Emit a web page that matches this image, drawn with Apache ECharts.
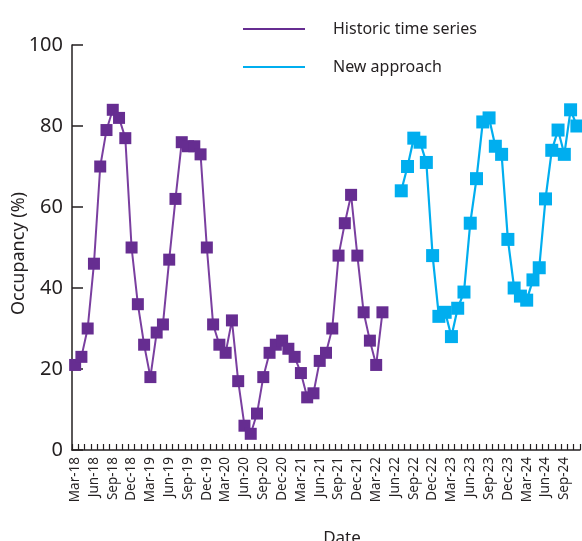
<!DOCTYPE html>
<html>
<head>
<meta charset="utf-8">
<script src="https://cdn.jsdelivr.net/npm/echarts@6/dist/echarts.min.js"></script>
<style>html,body{margin:0;padding:0;background:#fff;}#c{width:582px;height:541px;}</style>
</head>
<body>
<div id="c"></div>
<script>
const months = [
  'Mar-18','Apr-18','May-18','Jun-18','Jul-18','Aug-18','Sep-18','Oct-18','Nov-18','Dec-18',
  'Jan-19','Feb-19','Mar-19','Apr-19','May-19','Jun-19','Jul-19','Aug-19','Sep-19','Oct-19','Nov-19','Dec-19',
  'Jan-20','Feb-20','Mar-20','Apr-20','May-20','Jun-20','Jul-20','Aug-20','Sep-20','Oct-20','Nov-20','Dec-20',
  'Jan-21','Feb-21','Mar-21','Apr-21','May-21','Jun-21','Jul-21','Aug-21','Sep-21','Oct-21','Nov-21','Dec-21',
  'Jan-22','Feb-22','Mar-22','Apr-22','May-22','Jun-22','Jul-22','Aug-22','Sep-22','Oct-22','Nov-22','Dec-22',
  'Jan-23','Feb-23','Mar-23','Apr-23','May-23','Jun-23','Jul-23','Aug-23','Sep-23','Oct-23','Nov-23','Dec-23',
  'Jan-24','Feb-24','Mar-24','Apr-24','May-24','Jun-24','Jul-24','Aug-24','Sep-24','Oct-24','Nov-24'
];
const historicStart = 'Mar-18';
const historicValues = [
  21,23,30,46,70,79,84,82,77,50,
  36,26,18,29,31,47,62,76,75,75,73,50,
  31,26,24,32,17,6,4,9,18,24,26,27,
  25,23,19,13,14,22,24,30,48,56,63,48,
  34,27,21,34
];
const newStart = 'Jul-22';
const newValues = [
  64,70,77,76,71,48,
  33,34,28,35,39,56,67,81,82,75,73,52,
  40,38,37,42,45,62,74,79,73,84,80
];
const yTicks = { min: 0, max: 100, interval: 20 };

function toPairs(start, vals) {
  const s = months.indexOf(start);
  return vals.map((v, i) => [months[s + i], v]);
}

const textColor = '#231f20';
const font = 'Noto Sans';
const chart = echarts.init(document.getElementById('c'), null, { renderer: 'canvas' });
chart.setOption({
  animation: false,
  backgroundColor: '#fff',
  textStyle: { fontFamily: font, color: textColor },
  grid: { left: 72, right: 2, top: 45, bottom: 91, containLabel: false, outerBoundsMode: 'none' },
  legend: {
    orient: 'vertical',
    left: 238,
    top: 14,
    itemWidth: 62,
    itemHeight: 3,
    itemGap: 18,
    textStyle: { fontFamily: font, fontSize: 16, color: textColor, padding: [0, 0, 0, 23], lineHeight: 20 },
    data: [
      { name: 'Historic time series', icon: 'path://M0,0 L62,0 L62,2 L0,2 Z' },
      { name: 'New approach', icon: 'path://M0,0 L62,0 L62,2 L0,2 Z' }
    ]
  },
  xAxis: {
    type: 'category',
    data: months,
    boundaryGap: true,
    name: 'Date',
    nameLocation: 'middle',
    nameGap: 80,
    nameMoveOverlap: false,
    nameTextStyle: { fontFamily: font, fontSize: 17, color: textColor, padding: [0, 0, 0, 32] },
    axisLine: { lineStyle: { color: '#231f20', width: 1.5 } },
    axisTick: { show: true, inside: true, length: 6, interval: 0, lineStyle: { color: '#231f20', width: 1.2 } },
    axisLabel: { interval: 2, rotate: 90, fontSize: 13.5, color: textColor, fontFamily: font, margin: 7 },
    splitLine: { show: false }
  },
  yAxis: {
    type: 'value',
    min: yTicks.min,
    max: yTicks.max,
    interval: yTicks.interval,
    name: 'Occupancy (%)',
    nameLocation: 'middle',
    nameGap: 44,
    nameMoveOverlap: false,
    nameTextStyle: { fontFamily: font, fontSize: 18, color: textColor, padding: [0, 12, 0, 0] },
    axisLine: { show: true, lineStyle: { color: '#231f20', width: 1.5 } },
    axisTick: { show: true, inside: true, length: 11, lineStyle: { color: '#231f20', width: 1.5 } },
    axisLabel: { fontSize: 20, color: textColor, fontFamily: font, margin: 9 },
    splitLine: { show: false }
  },
  series: [
    {
      name: 'Historic time series',
      type: 'line',
      data: toPairs(historicStart, historicValues),
      symbol: 'rect',
      symbolSize: 12,
      showAllSymbol: true,
      color: '#662d91',
      lineStyle: { color: '#7a3fa0', width: 2 },
      itemStyle: { color: '#662d91' },
      clip: false
    },
    {
      name: 'New approach',
      type: 'line',
      data: toPairs(newStart, newValues),
      symbol: 'rect',
      symbolSize: 13,
      showAllSymbol: true,
      color: '#00aeef',
      lineStyle: { color: '#00aeef', width: 2.2 },
      itemStyle: { color: '#00aeef' },
      clip: false
    }
  ]
});
</script>
</body>
</html>
